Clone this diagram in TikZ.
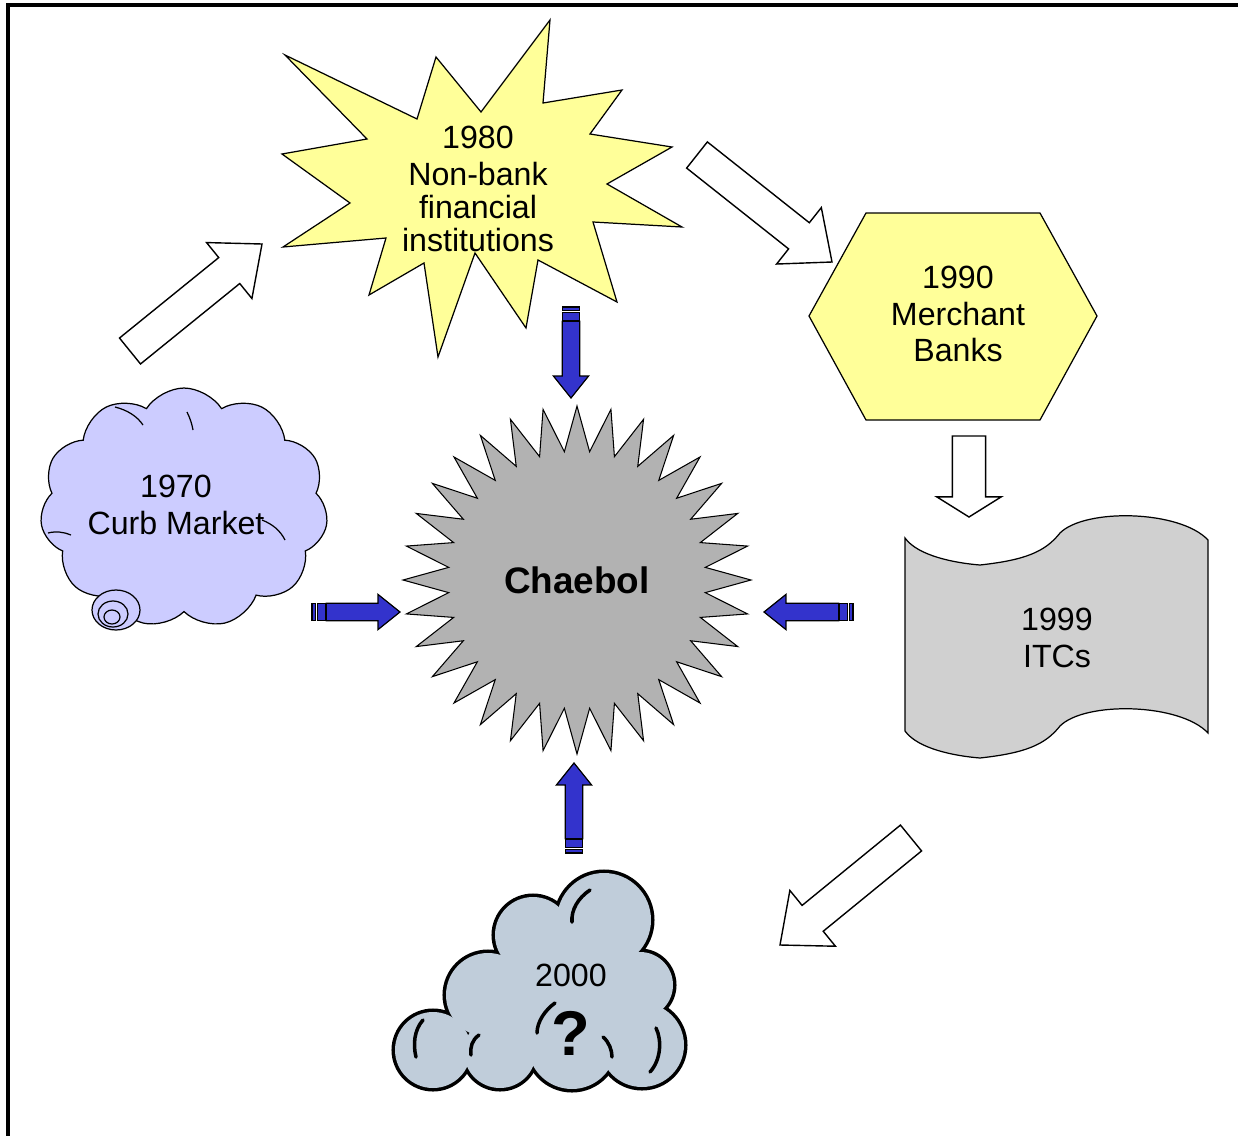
\documentclass[tikz,border=0pt]{standalone}
\usepackage{fontspec}
\setmainfont{Liberation Sans}
\usepackage{tikz}
\usetikzlibrary{
  calc,
  shapes.geometric,
  shapes.symbols
}
\definecolor{BurstYellow}{RGB}{255,255,153}
\definecolor{CurbLilac}{RGB}{204,204,255}
\definecolor{ItcGray}{RGB}{208,208,208}
\definecolor{ChaebolGray}{RGB}{178,178,178}
\definecolor{ArrowBlue}{RGB}{51,51,204}
\definecolor{FogBlue}{RGB}{192,205,218}
\tikzset{
  burst/.style={draw=black,fill=BurstYellow,line width=0.7pt,line join=miter},
  hexbox/.style={draw=black,fill=BurstYellow,line width=0.7pt},
  itcwave/.style={draw=black,fill=ItcGray,line width=0.7pt},
  curbcloud/.style={cloud,cloud puffs=11,cloud puff arc=115,cloud ignores aspect,draw=black,fill=CurbLilac,line width=0.7pt,minimum width=5.76cm,minimum height=4.8cm},
  curbline/.style={draw=black,line width=0.7pt},
  chaebolstar/.style={star,star points=32,star point ratio=1.35,minimum size=6.96cm,inner sep=0pt,draw=black,fill=ChaebolGray,line width=0.6pt,font=\fontsize{21}{24}\selectfont\bfseries},
  labeltext/.style={align=center,inner sep=0pt,font=\fontsize{18.3}{21}\selectfont},
  fogline/.style={draw=black,line width=4pt},
  fogstroke/.style={draw=black,line width=2pt,line cap=round},
  hollowblock/.style={draw=black,fill=white,line width=0.8pt,line join=miter},
  stripeblock/.style={draw=black,fill=ArrowBlue,line width=0.7pt,line join=miter}
}
% white block arrow: from, to, head length, head half width
\newcommand\hollowarrow[4]{%
  \draw[hollowblock] ($(#1)!9.5pt!-90:(#2)$)
    -- ($(#2)!#3!(#1)!9.5pt!90:(#1)$) -- ($(#2)!#3!(#1)!#4!90:(#1)$)
    -- (#2)
    -- ($(#2)!#3!(#1)!#4!-90:(#1)$) -- ($(#2)!#3!(#1)!9.5pt!-90:(#1)$)
    -- ($(#1)!9.5pt!90:(#2)$) -- cycle;}
% blue striped arrow: from, to
\newcommand\stripedarrow[2]{%
  \draw[stripeblock] ($(#1)!5pt!90:(#2)$) -- ($(#1)!1.9pt!(#2)!5pt!90:(#2)$)
    -- ($(#1)!1.9pt!(#2)!5pt!-90:(#2)$) -- ($(#1)!5pt!-90:(#2)$) -- cycle;
  \draw[stripeblock] ($(#1)!3.2pt!(#2)!5pt!90:(#2)$) -- ($(#1)!7.5pt!(#2)!5pt!90:(#2)$)
    -- ($(#1)!7.5pt!(#2)!5pt!-90:(#2)$) -- ($(#1)!3.2pt!(#2)!5pt!-90:(#2)$) -- cycle;
  \draw[stripeblock] ($(#1)!8.1pt!(#2)!5pt!90:(#2)$)
    -- ($(#2)!12.5pt!(#1)!5pt!-90:(#1)$) -- ($(#2)!12.5pt!(#1)!10pt!-90:(#1)$)
    -- (#2)
    -- ($(#2)!12.5pt!(#1)!10pt!90:(#1)$) -- ($(#2)!12.5pt!(#1)!5pt!90:(#1)$)
    -- ($(#1)!8.1pt!(#2)!5pt!-90:(#2)$) -- cycle;}

\begin{document}
\begin{tikzpicture}[x=0.02cm,y=-0.02cm]
\useasboundingbox (0,0) rectangle (1238,1136);
\draw[line width=2.3pt] (8,1140) -- (8,5) -- (1240,5);

% 1980
\draw[burst] (285,55) -- (417,119) -- (436,57) -- (481,112) -- (550,20) -- (543,103)
  -- (622,90) -- (590,134) -- (672,147) -- (607,184) -- (682,227) -- (593,222)
  -- (617,302) -- (538,260) -- (526,328) -- (475,253) -- (438,357) -- (424,263)
  -- (369,295) -- (386,238) -- (283,247) -- (350,203) -- (282,154) -- (367,139) -- cycle;
\node[labeltext,font=\fontsize{18.3}{18.6}\selectfont] (burst) at (478,189) {1980\\[2.5pt]Non-bank\\financial\\institutions};

% 1990
\draw[hexbox] (809,316) -- (866,213) -- (1040,213) -- (1097,316) -- (1040,420) -- (866,420) -- cycle;
\node[labeltext] (merchant) at (958,314) {1990\\Merchant\\Banks};

% 1999
\draw[itcwave] (905,538) .. controls (918,556) and (955,563) .. (980,565)
  .. controls (1025,560) and (1045,552) .. (1060,533)
  .. controls (1085,508) and (1180,510) .. (1208,540) -- (1208,733)
  .. controls (1180,703) and (1085,701) .. (1060,726)
  .. controls (1045,745) and (1025,753) .. (980,758)
  .. controls (955,756) and (918,749) .. (905,731) -- cycle;
\node[labeltext] (itc) at (1057,638) {1999\\ITCs};

% 1970
\node[curbcloud] (curb) at (184,508) {};
\draw[curbline] (115,407) .. controls (127,410) and (137,416) .. (143,425);
\draw[curbline] (187,412) .. controls (190,418) and (192,424) .. (193,430);
\draw[curbline] (262,520) .. controls (272,524) and (280,530) .. (285,540);
\draw[curbline] (48,533) .. controls (56,531) and (64,532) .. (71,535);
\draw[curbline,fill=CurbLilac] (116,610) ellipse [x radius=24, y radius=20];
\draw[curbline] (113,614) ellipse [x radius=15, y radius=13];
\draw[curbline] (112,617) ellipse [x radius=8, y radius=7];
\node[labeltext] (t1970) at (176,505) {1970\\Curb Market};

% 2000
\foreach \cx/\cy/\r in {433/1050/38,488/995/42,533/935/38,604/920/47,640/985/33,642/1045/42,572/1045/44,500/1052/36}
  \draw[fogline] (\cx,\cy) circle [radius=\r];
\foreach \cx/\cy/\r in {433/1050/38,488/995/42,533/935/38,604/920/47,640/985/33,642/1045/42,572/1045/44,500/1052/36,612/975/22}
  \fill[FogBlue] (\cx,\cy) circle [radius=\r];
\fill[FogBlue] (565,1000) ellipse [x radius=62, y radius=52];
\draw[fogstroke] (590,890) .. controls (578,898) and (571,910) .. (572,922);
\draw[fogstroke] (423,1020) .. controls (414,1030) and (413,1045) .. (416,1057);
\draw[fogstroke] (555,1003) .. controls (545,1010) and (537,1022) .. (537,1033);
\draw[fogstroke] (479,1035) .. controls (472,1040) and (470,1047) .. (471,1055);
\draw[fogstroke] (656,1028) .. controls (662,1040) and (661,1060) .. (650,1072);
\draw[fogstroke] (603,1037) .. controls (609,1042) and (612,1050) .. (612,1057);
\node[labeltext] (fog) at (571,975) {2000};
\node[labeltext,font=\fontsize{36}{40}\selectfont\bfseries] (qmark) at (571,1033) {?};

% Chaebol
\node[chaebolstar] (chaebol) at (577,580) {Chaebol};

% white arrows
\coordinate (w1a) at (130,351); \coordinate (w1b) at (262,244);
\coordinate (w2a) at (697,155); \coordinate (w2b) at (832,262);
\coordinate (w3a) at (969,436); \coordinate (w3b) at (969,517);
\coordinate (w4a) at (911,838); \coordinate (w4b) at (780,945);
\hollowarrow{w1a}{w1b}{24pt}{20.5pt}
\hollowarrow{w2a}{w2b}{24pt}{20.5pt}
\hollowarrow{w3a}{w3b}{11.5pt}{18.4pt}
\hollowarrow{w4a}{w4b}{24pt}{20.5pt}

% blue arrows
\coordinate (b1a) at (571,307); \coordinate (b1b) at (571,398);
\coordinate (b2a) at (312,612); \coordinate (b2b) at (400,612);
\coordinate (b3a) at (853,612); \coordinate (b3b) at (764,612);
\coordinate (b4a) at (574,853); \coordinate (b4b) at (574,763);
\stripedarrow{b1a}{b1b}
\stripedarrow{b2a}{b2b}
\stripedarrow{b3a}{b3b}
\stripedarrow{b4a}{b4b}
\end{tikzpicture}
\end{document}
